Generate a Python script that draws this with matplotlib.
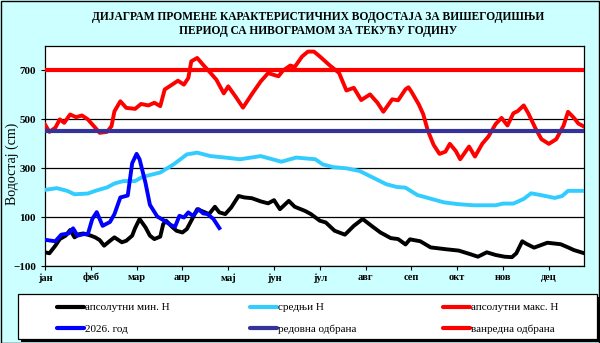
import matplotlib
matplotlib.use("Agg")
import matplotlib.pyplot as plt
from matplotlib.patches import Rectangle
from matplotlib.lines import Line2D

# ---------------- data (day of year, water level in cm) ----------------
months = ["јан", "феб", "мар", "апр", "мај", "јун", "јул", "авг", "сеп", "окт", "нов", "дец"]
month_ticks = [0, 31, 62, 93, 124, 155, 186, 217, 248, 279, 310, 341]

min_days = [0, 3, 7, 10, 14, 17, 20, 23, 26, 31, 34, 37, 40, 44, 47, 52, 55, 59, 61, 64, 68, 71, 74, 78,
            80, 82, 86, 89, 93, 96, 99, 103, 106, 111, 115, 118, 122, 126, 131, 135, 140, 146, 151, 155,
            159, 165, 169, 176, 180, 186, 190, 196, 203, 209, 215, 221, 227, 234, 239, 244, 247, 254,
            261, 272, 280, 288, 293, 299, 305, 311, 316, 319, 323, 326, 331, 340, 349, 354, 358, 365]
min_vals = [-44, -48, -17, 10, 24, 47, 17, 30, 33, 24, 17, 6, -17, 3, 17, -3, 3, 24, 55, 92, 58, 24, 10, 20,
            71, 85, 60, 44, 37, 51, 85, 132, 125, 112, 142, 119, 112, 139, 186, 180, 177, 164, 156, 169,
            132, 166, 142, 125, 112, 85, 78, 44, 28, 64, 92, 64, 37, 14, 10, -12, 9, 1,
            -24, -32, -37, -52, -62, -44, -55, -62, -64, -48, 1, -10, -25, -5, -11, -24, -35, -48]

mean_days = [0, 8, 15, 20, 29, 34, 42, 47, 53, 61, 66, 78, 87, 96, 103, 112, 122, 132, 146, 160, 170, 183,
             188, 195, 204, 213, 222, 231, 238, 244, 252, 261, 270, 279, 290, 305, 310, 317, 324, 329,
             337, 345, 350, 354, 365]
mean_vals = [211, 218, 207, 193, 196, 207, 221, 237, 247, 247, 264, 282, 315, 356, 363, 349, 343, 336, 349,
             326, 343, 336, 315, 304, 299, 288, 261, 234, 223, 220, 190, 175, 160, 153, 148, 148, 155, 155,
             174, 197, 188, 178, 186, 207, 207]

max_days = [0, 3, 7, 10, 13, 17, 21, 25, 29, 34, 37, 42, 45, 47, 51, 55, 61, 65, 70, 74, 78, 81, 86, 90,
            94, 97, 99, 103, 107, 112, 116, 121, 124, 129, 134, 140, 146, 151, 158, 161, 166, 169, 174,
            178, 182, 186, 193, 199, 204, 209, 214, 220, 225, 229, 235, 239, 244, 246, 248, 253, 256,
            259, 263, 267, 271, 274, 278, 281, 284, 287, 291, 296, 300, 305, 309, 313, 317, 320, 324,
            327, 332, 336, 341, 346, 351, 354, 358, 361, 365]
max_vals = [478, 448, 465, 499, 485, 519, 508, 515, 499, 465, 444, 448, 471, 532, 573, 546, 542, 562, 556,
            567, 553, 621, 641, 657, 641, 668, 736, 750, 722, 689, 661, 605, 634, 592, 547, 602, 654, 688,
            675, 698, 719, 713, 756, 776, 776, 756, 718, 689, 617, 628, 578, 601, 567, 530, 581, 577, 622,
            630, 612, 560, 520, 455, 395, 358, 367, 399, 370, 336, 362, 388, 347, 400, 428, 480, 505, 474,
            524, 533, 556, 525, 462, 418, 399, 418, 474, 530, 505, 482, 469]

cur_days = [0, 7, 11, 16, 19, 22, 26, 29, 32, 35, 39, 44, 47, 51, 56, 59, 62, 64, 68, 71, 76, 80, 85, 88,
            91, 94, 97, 100, 104, 107, 110, 114, 118]
cur_vals = [7, 1, 28, 33, 54, 24, 30, 30, 92, 120, 64, 80, 112, 180, 188, 320, 358, 336, 240, 150, 102, 88,
            68, 60, 105, 98, 119, 105, 132, 115, 112, 92, 55]

regular_defense = 450
emergency_defense = 700

yticks = [-100, 100, 300, 500, 700]

labels = ["апсолутни мин. Н", "средњи Н", "апсолутни макс. Н",
          "2026. год", "редовна одбрана", "ванредна одбрана"]
colors = ["#000000", "#33CCFF", "#FF0000", "#0000FF", "#333399", "#FF0000"]

# ---------------- figure ----------------
bg = "#ccffff"
fig = plt.figure(figsize=(6.0, 3.43), dpi=100, facecolor=bg)
ax = fig.add_axes([45 / 600, 1 - 266 / 343, (584.3 - 45) / 600, (266 - 45.7) / 343])
ax.set_facecolor("white")

serif = "Liberation Serif"
lw = 2.8
ax.plot(min_days, min_vals, color=colors[0], lw=lw, solid_joinstyle="round", zorder=3)
ax.plot(mean_days, mean_vals, color=colors[1], lw=lw, solid_joinstyle="round", zorder=3)
ax.plot(max_days, max_vals, color=colors[2], lw=lw, solid_joinstyle="round", zorder=3)
ax.plot(cur_days, cur_vals, color=colors[3], lw=lw, solid_joinstyle="round", zorder=4)
ax.axhline(regular_defense, color=colors[4], lw=3.0, zorder=5)
ax.axhline(emergency_defense, color=colors[5], lw=3.0, zorder=5)

ax.set_xlim(0, 365)
ax.set_ylim(-100, 800)
ax.set_yticks(yticks)
ax.set_xticks(month_ticks)
ax.set_xticklabels(months)
ax.yaxis.grid(True, color="black", lw=0.9)
ax.set_axisbelow(True)
for sp in ax.spines.values():
    sp.set_linewidth(0.9)
ax.tick_params(axis="both", direction="out", length=3, width=0.8, color="black")
ax.tick_params(axis="x", pad=2)
for t in ax.get_xticklabels():
    t.set_fontfamily(serif)
    t.set_fontweight("bold")
    t.set_fontsize(7.5)
for t in ax.get_yticklabels():
    t.set_fontfamily(serif)
    t.set_fontweight("bold")
    t.set_fontsize(8)

fig.text(12 / 600, 1 - 164 / 343, "Водостај (cm)", rotation=90, ha="center", va="center",
         family=serif, fontsize=10)

fig.text(318 / 600, 1 - 24 / 343,
         "ДИЈАГРАМ ПРОМЕНЕ КАРАКТЕРИСТИЧНИХ ВОДОСТАЈА ЗА ВИШЕГОДИШЊИ\nПЕРИОД СА НИВОГРАМОМ ЗА ТЕКУЋУ ГОДИНУ",
         ha="center", va="center", family=serif, fontweight="bold", fontsize=8.3, linespacing=1.15)

# legend box with shadow
lx0, ly0, lx1, ly1 = 18, 294, 597, 339
W, H = 600, 343
fig.patches.append(Rectangle(((lx0 + 3) / W, 1 - (ly1 + 3) / H), (lx1 - lx0) / W, (ly1 - ly0) / H,
                             transform=fig.transFigure, facecolor="black", edgecolor="none", zorder=1))
fig.patches.append(Rectangle((lx0 / W, 1 - ly1 / H), (lx1 - lx0) / W, (ly1 - ly0) / H,
                             transform=fig.transFigure, facecolor="white", edgecolor="black", lw=0.9, zorder=2))

handles = [Line2D([], [], color=c, lw=3.0, solid_capstyle="round") for c in colors]
col_x = [57, 250, 443]
for i, x in enumerate(col_x):
    leg = fig.legend([handles[i], handles[i + 3]], [labels[i], labels[i + 3]],
                     loc="center left", bbox_to_anchor=(x / W, 1 - 318.3 / H),
                     frameon=False, borderpad=0, borderaxespad=0, handlelength=2.4,
                     handletextpad=0.15, labelspacing=1.05,
                     prop={"family": serif, "size": 8})
    leg.set_zorder(3)

# outer border
fig.patches.append(Rectangle((0.001, 0.001), 0.997, 0.997, transform=fig.transFigure,
                             facecolor="none", edgecolor="black", lw=1.0, zorder=0))

fig.savefig("out.png", dpi=100, facecolor=bg)
